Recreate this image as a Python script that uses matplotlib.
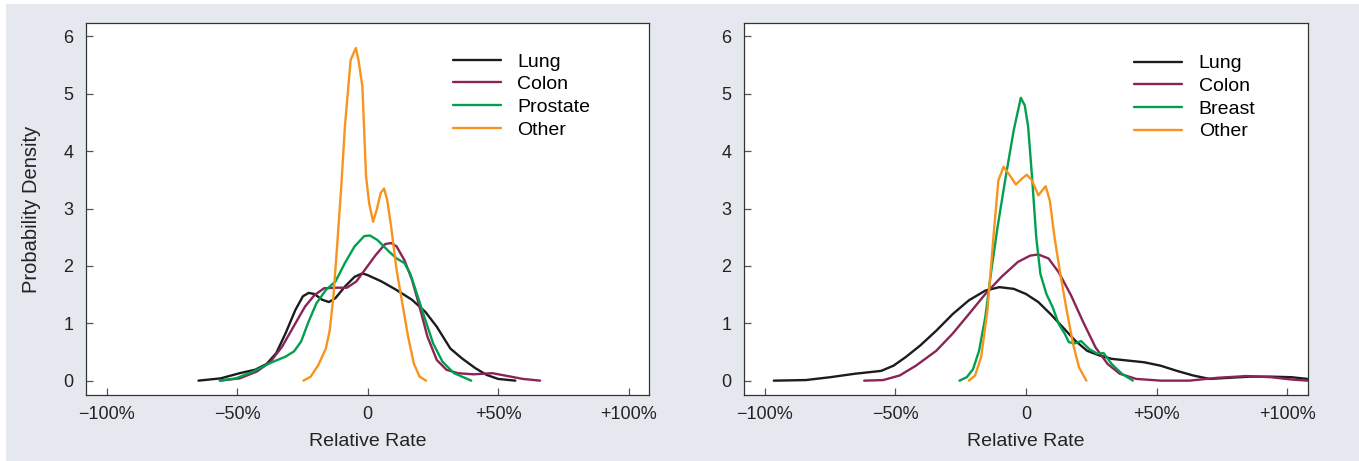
import matplotlib
matplotlib.use("Agg")
import matplotlib.pyplot as plt
from matplotlib.patches import Rectangle

plt.rcParams['font.family'] = ['Liberation Sans', 'DejaVu Sans']

# ---- left panel ----
l_lung_x = [-64.8, -56.3, -49, -43.1, -38.7, -35, -31.4, -27.7, -24.8, -22.6, -20.4, -17.4, -14.8, -12.3,
            -8.7, -5, -2, 0, 5.3, 11.1, 17, 22.1, 26.5, 31.7, 36.1, 41.2, 45.6, 50, 56.6]
l_lung_y = [0, 0.04, 0.13, 0.19, 0.29, 0.48, 0.83, 1.23, 1.47, 1.53, 1.51, 1.41, 1.37, 1.44,
            1.64, 1.81, 1.87, 1.84, 1.73, 1.58, 1.41, 1.20, 0.94, 0.56, 0.39, 0.22, 0.10, 0.03, 0]

l_colon_x = [-56.6, -49, -42.4, -37.2, -32.8, -28.4, -24, -20.4, -16.7, -12.3, -7.9, -4.3, -0.6, 3.1,
             6.7, 9, 11.1, 14.1, 17, 19.9, 22.9, 26.5, 30.2, 34.6, 40.5, 47.8, 53.7, 59.5, 66.1]
l_colon_y = [0, 0.04, 0.16, 0.33, 0.59, 0.94, 1.29, 1.49, 1.61, 1.62, 1.62, 1.73, 1.96, 2.19,
             2.38, 2.40, 2.34, 2.10, 1.76, 1.29, 0.77, 0.36, 0.19, 0.13, 0.11, 0.13, 0.08, 0.03, 0]

l_prost_x = [-56.6, -50.4, -43.8, -37.2, -31.4, -28.2, -25.5, -22.6, -19.6, -16, -12.3, -8.7, -5, -1.3,
             0.9, 3.8, 8.2, 11.1, 14.1, 16.3, 19.2, 22.1, 25.1, 28.7, 33.1, 39.7]
l_prost_y = [0, 0.04, 0.16, 0.31, 0.42, 0.51, 0.68, 1.03, 1.35, 1.58, 1.73, 2.05, 2.34, 2.52,
             2.53, 2.45, 2.25, 2.13, 2.05, 1.87, 1.47, 1.06, 0.65, 0.33, 0.13, 0]

l_other_x = [-24.6, -21.8, -18.9, -16, -14.5, -13.1, -11.6, -10.1, -8.7, -6.5, -4.5, -3.5, -2, -0.6,
             0.6, 2.1, 3.5, 5, 6.3, 7.5, 9, 11.1, 13.3, 15.5, 17.7, 19.9, 22.4]
l_other_y = [0, 0.07, 0.27, 0.56, 0.88, 1.47, 2.40, 3.38, 4.43, 5.59, 5.80, 5.59, 5.13, 3.56,
             3.09, 2.77, 2.98, 3.27, 3.35, 3.15, 2.69, 1.93, 1.35, 0.77, 0.30, 0.07, 0]

# ---- right panel ----
r_lung_x = [-96.6, -84.4, -75, -65.6, -55.5, -50.8, -46.1, -40.6, -34.4, -28.1, -21.9, -15.6, -10.2, -4.7,
            0, 4.7, 9.4, 14.1, 18.75, 23.4, 28.1, 32.8, 39, 45.3, 51.6, 57.8, 64, 70.3, 78.1, 85.9,
            93.75, 101.6, 107.8]
r_lung_y = [0, 0.01, 0.06, 0.12, 0.17, 0.26, 0.41, 0.61, 0.87, 1.16, 1.40, 1.57, 1.63, 1.60,
            1.51, 1.37, 1.16, 0.93, 0.70, 0.52, 0.44, 0.38, 0.35, 0.32, 0.26, 0.17, 0.09, 0.03, 0.05, 0.07,
            0.07, 0.06, 0.03]

r_colon_x = [-62, -54.7, -48.4, -42.2, -34.4, -28.1, -21.9, -15.6, -9.4, -3.1, 1.6, 4.7, 8.6, 12.5,
             17.2, 21.9, 26.6, 31.25, 35.9, 42.2, 51.6, 62.5, 73.4, 84.4, 93.75, 101.6, 107.8]
r_colon_y = [0, 0.01, 0.09, 0.26, 0.52, 0.82, 1.16, 1.51, 1.81, 2.07, 2.18, 2.20, 2.13, 1.89,
             1.49, 1.02, 0.58, 0.29, 0.12, 0.03, 0, 0, 0.05, 0.08, 0.06, 0.02, 0]

r_breast_x = [-25.5, -22.7, -20.3, -18, -15.6, -13.3, -10.9, -7.8, -4.7, -2, -0.5, 0.8, 2.3, 3.9,
              5.5, 7.8, 10.2, 12.5, 14.8, 16.4, 18.75, 21.1, 24.2, 27.3, 29.7, 32.8, 36.7, 40.9]
r_breast_y = [0, 0.06, 0.20, 0.52, 1.11, 1.92, 2.68, 3.55, 4.37, 4.93, 4.80, 4.43, 3.55, 2.50,
              1.86, 1.51, 1.28, 0.99, 0.82, 0.67, 0.65, 0.69, 0.55, 0.47, 0.48, 0.29, 0.12, 0]

r_other_x = [-21.9, -19.5, -17.2, -14.8, -12.5, -10.6, -8.6, -6.7, -3.9, -1.6, 0.3, 2.3, 4.7, 7.5,
             9.1, 10.9, 13.3, 15.6, 18, 20.3, 23.1]
r_other_y = [0, 0.09, 0.41, 1.22, 2.50, 3.49, 3.73, 3.61, 3.42, 3.52, 3.59, 3.49, 3.23, 3.39,
             3.14, 2.50, 1.81, 1.22, 0.64, 0.23, 0]

xticks = [-100, -50, 0, 50, 100]
xticklabels = ['\u2212100%', '\u221250%', '0', '+50%', '+100%']
yticks = [0, 1, 2, 3, 4, 5, 6]

c_lung = '#1c1c1c'
c_colon = '#8a2456'
c_green = '#00a04e'
c_other = '#f7941e'

fig = plt.figure(figsize=(13.59, 4.61), dpi=100, facecolor='#e5e9ef')
# thin white strips along the top and left edge
fig.patches.append(Rectangle((0, 1 - 4 / 461), 1, 4 / 461, transform=fig.transFigure,
                             facecolor='white', edgecolor='none', zorder=-1))
fig.patches.append(Rectangle((0, 0), 6 / 1359, 1, transform=fig.transFigure,
                             facecolor='white', edgecolor='none', zorder=-1))

ax1 = fig.add_axes([0.0631, 0.1432, 0.4148, 0.8063])
ax2 = fig.add_axes([0.5475, 0.1432, 0.4150, 0.8063])

panels = [
    (ax1, [(l_lung_x, l_lung_y, c_lung, 'Lung'), (l_colon_x, l_colon_y, c_colon, 'Colon'),
           (l_prost_x, l_prost_y, c_green, 'Prostate'), (l_other_x, l_other_y, c_other, 'Other')],
     (0.651, 0.92)),
    (ax2, [(r_lung_x, r_lung_y, c_lung, 'Lung'), (r_colon_x, r_colon_y, c_colon, 'Colon'),
           (r_breast_x, r_breast_y, c_green, 'Breast'), (r_other_x, r_other_y, c_other, 'Other')],
     (0.6915, 0.915)),
]

for ax, series, leg_pos in panels:
    ax.set_facecolor('white')
    for xs, ys, col, lab in series:
        ax.plot(xs, ys, color=col, lw=1.7, label=lab, solid_capstyle='round')
    ax.set_xlim(-108, 108)
    ax.set_ylim(-0.25, 6.23)
    ax.set_xticks(xticks)
    ax.set_xticklabels(xticklabels)
    ax.set_yticks(yticks)
    ax.tick_params(direction='in', length=5, width=0.9, color='#555555', labelsize=13,
                   labelcolor='#222222')
    ax.tick_params(axis='x', pad=8)
    ax.tick_params(axis='y', pad=9)
    for sp in ax.spines.values():
        sp.set_color('#333333')
        sp.set_linewidth(0.9)
    ax.set_xlabel('Relative Rate', fontsize=14, color='#222222', labelpad=7)
    ax.legend(loc='upper left', bbox_to_anchor=leg_pos, frameon=False, fontsize=14,
              handlelength=2.47, handletextpad=0.86, labelspacing=0.26, borderpad=0,
              borderaxespad=0)

ax1.set_ylabel('Probability Density', fontsize=14.5, color='#222222', labelpad=16)

fig.savefig('out.png', dpi=100, facecolor=fig.get_facecolor())
